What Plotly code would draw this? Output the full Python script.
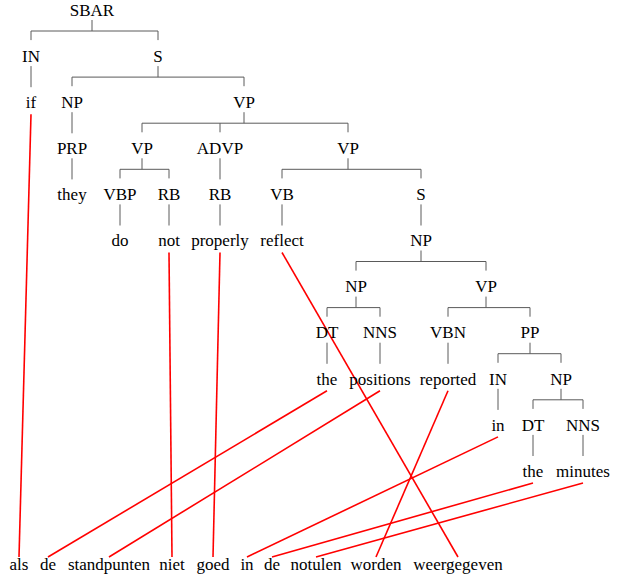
import plotly.graph_objects as go

# ---- data ----
node_labels = ["SBAR", "IN", "S", "if", "NP", "VP", "PRP", "VP", "ADVP", "VP",
               "they", "VBP", "RB", "RB", "VB", "S", "do", "not", "properly", "reflect",
               "NP", "NP", "VP", "DT", "NNS", "VBN", "PP", "the", "positions", "reported",
               "IN", "NP", "in", "DT", "NNS", "the", "minutes"]
node_parent = [-1, 0, 0, 1, 2, 2, 4, 5, 5, 5,
               6, 7, 7, 8, 9, 9, 11, 12, 13, 14,
               15, 20, 20, 21, 21, 22, 22, 23, 24, 25,
               26, 26, 30, 31, 31, 33, 34]
node_level = [0, 1, 1, 2, 2, 2, 3, 3, 3, 3,
              4, 4, 4, 4, 4, 4, 5, 5, 5, 5,
              5, 6, 6, 7, 7, 7, 7, 8, 8, 8,
              8, 8, 9, 9, 9, 10, 10]
node_col = [92, 31, 158, 31, 72, 244, 72, 142, 220, 348,
            72, 120, 169, 220, 282, 421, 120, 169, 220, 282,
            421, 356, 486, 327, 380, 448, 530, 327, 380, 448,
            498, 561, 498, 533, 583, 533, 583]

dutch_words = ["als", "de", "standpunten", "niet", "goed", "in", "de", "notulen", "worden", "weergegeven"]
dutch_col = [19, 48, 109, 172, 213, 247, 272, 316, 376, 458]

# alignment: (english leaf node index, dutch word index)
align_src = [3, 17, 18, 19, 27, 28, 29, 32, 35, 36]
align_dst = [0, 3, 4, 9, 1, 2, 8, 5, 6, 7]

# ---- layout helpers ----
def lvl_y(l):
    return 10 + 46.1 * l

DUTCH_Y = 564
TEXT_SHIFT = 1.5
FONT = dict(family="'Times New Roman', 'Liberation Serif', serif", size=17, color="black")
TREE_COLOR = "#5a5a5a"

fig = go.Figure()

# tree edges
tx, ty = [], []
children = {}
for i, p in enumerate(node_parent):
    if p >= 0:
        children.setdefault(p, []).append(i)
for p, ch in children.items():
    py = lvl_y(node_level[p])
    px = node_col[p]
    if len(ch) == 1:
        c = ch[0]
        tx += [px, px, None]
        ty += [py + 10, lvl_y(node_level[c]) - 15, None]
    else:
        bar = py + 21
        tx += [px, px, None]
        ty += [py + 10, bar, None]
        xs = [node_col[c] for c in ch]
        tx += [min(xs), max(xs), None]
        ty += [bar, bar, None]
        for c in ch:
            tx += [node_col[c], node_col[c], None]
            ty += [bar, lvl_y(node_level[c]) - 16, None]

fig.add_trace(go.Scatter(x=tx, y=ty, mode="lines",
                         line=dict(color=TREE_COLOR, width=1),
                         hoverinfo="skip", showlegend=False, cliponaxis=False))

# alignment lines
ax, ay = [], []
for s, d in zip(align_src, align_dst):
    ax += [node_col[s], dutch_col[d], None]
    ay += [lvl_y(node_level[s]) + 12, DUTCH_Y - 7, None]
fig.add_trace(go.Scatter(x=ax, y=ay, mode="lines",
                         line=dict(color="#ff0000", width=1.6),
                         hoverinfo="skip", showlegend=False, cliponaxis=False))

# node text
fig.add_trace(go.Scatter(x=node_col, y=[lvl_y(l) + TEXT_SHIFT for l in node_level],
                         mode="text", text=node_labels, textfont=FONT,
                         textposition="middle center", cliponaxis=False,
                         hoverinfo="skip", showlegend=False))
# dutch text
fig.add_trace(go.Scatter(x=dutch_col, y=[DUTCH_Y + TEXT_SHIFT] * len(dutch_words),
                         mode="text", text=dutch_words, textfont=FONT,
                         textposition="middle center", cliponaxis=False,
                         hoverinfo="skip", showlegend=False))

fig.update_layout(
    width=623, height=578,
    margin=dict(l=0, r=0, t=0, b=0),
    paper_bgcolor="white", plot_bgcolor="white",
    hovermode=False,
    xaxis=dict(range=[0, 623], visible=False, fixedrange=True),
    yaxis=dict(range=[578, 0], visible=False, fixedrange=True),
)

fig.write_html("out.html", config={"displayModeBar": False, "staticPlot": True},
               post_script="document.body.style.margin='0';document.body.style.overflow='hidden';")
